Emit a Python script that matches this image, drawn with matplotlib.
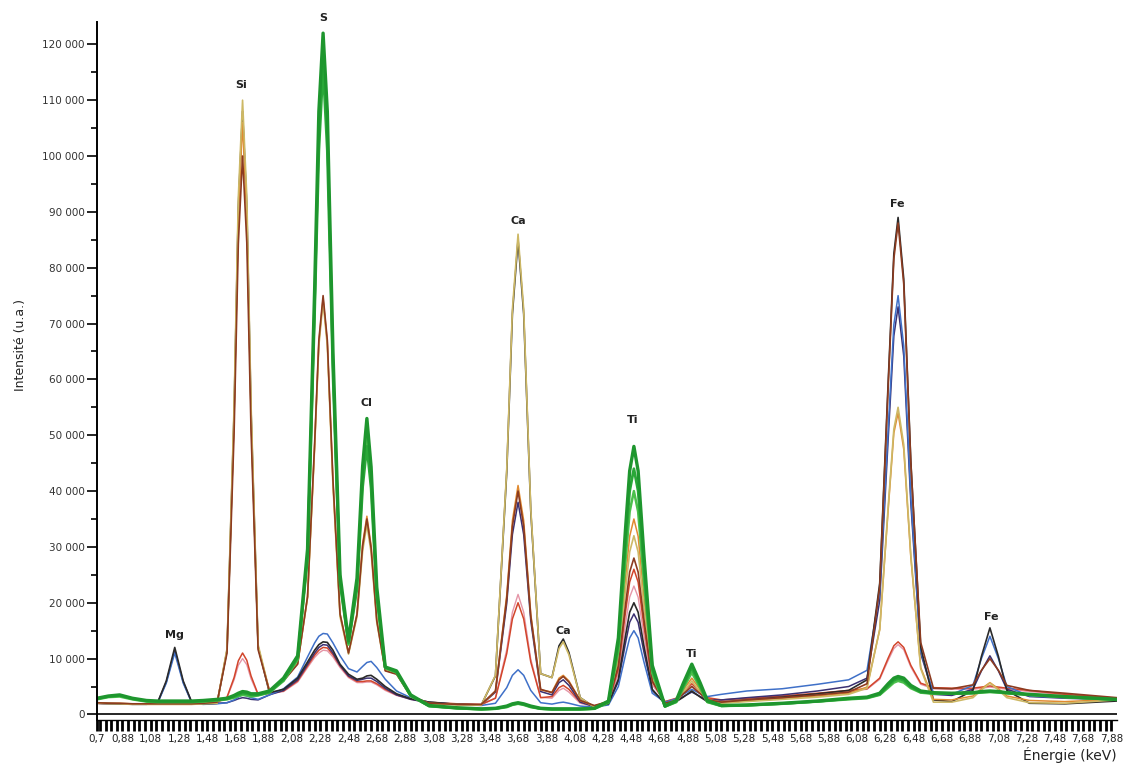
import numpy as np
import matplotlib
matplotlib.use('Agg')
import matplotlib.pyplot as plt
from matplotlib.ticker import FixedLocator, FuncFormatter

plt.rcParams['font.family'] = ['DejaVu Sans']

# energy grid (keV), shared by every spectrum
energy = [0.70, 0.78, 0.86, 0.95, 1.05, 1.13, 1.19, 1.25, 1.31, 1.37, 1.45, 1.55,
          1.62, 1.67, 1.70, 1.73, 1.76, 1.79, 1.84, 1.92,
          2.02, 2.12, 2.19, 2.24, 2.27, 2.30, 2.33, 2.37, 2.42, 2.48,
          2.54, 2.58, 2.61, 2.64, 2.68, 2.74, 2.82, 2.92,
          3.05, 3.25, 3.42, 3.52,
          3.60, 3.64, 3.68, 3.72, 3.77, 3.84, 3.92, 3.97, 4.00, 4.04, 4.12, 4.22,
          4.32, 4.39, 4.44, 4.47, 4.50, 4.53, 4.57, 4.63, 4.72,
          4.80, 4.85, 4.91, 4.97, 5.02, 5.12,
          5.30, 5.55, 5.80, 6.02,
          6.15, 6.24, 6.30, 6.34, 6.37, 6.41, 6.46, 6.53, 6.62,
          6.75, 6.90, 6.96, 7.02, 7.08, 7.14, 7.30, 7.55, 7.92]

green = [2900, 3300, 3500, 2900, 2500, 2400, 2400, 2400, 2400, 2400, 2500, 2700,
         2900, 3400, 3800, 4100, 4000, 3700, 3700, 4200,
         6500, 10500, 29600, 76000, 108000, 122000, 108000, 65000, 25000, 13200,
         24400, 44500, 53000, 44300, 22800, 8500, 7800, 3500,
         1600, 1200, 1000, 1100,
         1500, 1900, 2100, 1900, 1500, 1100, 1000, 1000, 1000, 1000, 1000, 1100,
         2400, 13700, 33000, 43600, 48000, 43600, 28900, 8800, 1500,
         2500, 5600, 9000, 5600, 2500, 1600,
         1700, 2000, 2400, 2900,
         3100, 3800, 5500, 6500, 6800, 6500, 5200, 4200, 3900,
         3800, 3900, 4100, 4200, 4100, 3900, 3600, 3200, 2700]

green2 = [2700, 3100, 3200, 2700, 2300, 2200, 2200, 2200, 2200, 2200, 2300, 2500,
          2700, 3000, 3300, 3500, 3400, 3200, 3400, 3900,
          6000, 9800, 28700, 74100, 105000, 119000, 105000, 63000, 24000, 12500,
          23200, 42100, 49500, 41500, 21500, 8300, 7500, 3300,
          1500, 1100, 900, 1000,
          1300, 1700, 1900, 1700, 1300, 1000, 900, 900, 900, 900, 900, 1000,
          2100, 11400, 27400, 36300, 40000, 36300, 24100, 7400, 1400,
          2200, 4700, 7500, 4700, 2200, 1500,
          1600, 1900, 2300, 2700,
          2900, 3500, 4800, 5700, 6000, 5700, 4700, 3900, 3700,
          3700, 3800, 3900, 4000, 3900, 3800, 3500, 3100, 2600]

green3 = [2800, 3200, 3400, 2800, 2400, 2300, 2300, 2300, 2300, 2300, 2400, 2600,
          2800, 3200, 3500, 3800, 3700, 3500, 3500, 4000,
          6200, 10100, 28000, 72000, 101000, 116000, 101000, 61000, 23500, 12800,
          22500, 40800, 48000, 40500, 21000, 8400, 7600, 3400,
          1500, 1100, 950, 1050,
          1400, 1800, 2000, 1800, 1400, 1050, 950, 950, 950, 950, 950, 1050,
          2200, 12600, 30300, 40000, 44000, 40000, 26500, 8100, 1450,
          2300, 5100, 8300, 5100, 2300, 1550,
          1650, 1950, 2350, 2800,
          3000, 3600, 5100, 6100, 6400, 6100, 4900, 4000, 3800,
          3750, 3850, 4000, 4100, 4000, 3850, 3550, 3150, 2650]

brown = [2100, 2000, 2000, 1900, 1900, 1900, 1900, 1900, 1900, 1900, 2000, 2200,
         11000, 50400, 84300, 100000, 84500, 50800, 11600, 4200,
         6000, 9000, 21100, 48400, 67000, 75000, 67000, 41900, 18000, 11000,
         17900, 30200, 35000, 29800, 16800, 7800, 7200, 3300,
         2000, 1800, 1800, 4200,
         20800, 33700, 40000, 33700, 17600, 4500, 3900, 6200, 6800, 5800, 2500, 1600,
         2300, 8700, 19500, 25500, 28000, 25500, 17200, 6000, 2000,
         2500, 3700, 5000, 3700, 2600, 2200,
         2600, 3000, 3500, 4000,
         5500, 22900, 58800, 81600, 88000, 77100, 45200, 12900, 4700,
         4600, 5300, 7900, 10000, 7900, 5200, 4300, 3800, 3000]

khaki = [2000, 1900, 1900, 1800, 1800, 1800, 1800, 1800, 1800, 1800, 1900, 2000,
         11800, 55200, 92600, 110000, 92800, 55500, 12500, 4200,
         6200, 9200, 20900, 47700, 66000, 74000, 66000, 41000, 17500, 10800,
         17500, 29300, 34000, 29000, 16500, 7900, 7300, 3200,
         1900, 1700, 1700, 7000,
         43900, 72500, 86000, 72500, 36800, 7300, 6600, 11800, 13000, 10700, 3000, 1300,
         2200, 9600, 22200, 29100, 32000, 29100, 19500, 6500, 1800,
         2300, 3900, 6000, 3900, 2400, 2000,
         2300, 2700, 3100, 3600,
         4700, 15200, 37200, 51100, 55000, 48300, 28600, 8200, 2200,
         2200, 3000, 4400, 5600, 4400, 3000, 2100, 2000, 2600]

orange = [2100, 2000, 2000, 1900, 1900, 1900, 1900, 1900, 1900, 1900, 2000, 2100,
          11500, 53200, 88900, 106000, 89100, 53500, 12100, 4300,
          6100, 9100, 21100, 48100, 66600, 74500, 66600, 41700, 18000, 11000,
          18000, 30600, 35500, 30200, 17000, 7900, 7300, 3300,
          2000, 1800, 1700, 4200,
          21400, 34700, 41000, 34700, 18000, 4400, 4000, 6500, 7000, 6000, 2500, 1500,
          2400, 10500, 24200, 31900, 35000, 31900, 21300, 7000, 1900,
          2600, 4400, 6500, 4400, 2700, 2200,
          2500, 2900, 3300, 3800,
          4900, 15200, 36700, 50400, 54000, 47500, 28200, 8400, 2700,
          2600, 3300, 4600, 5700, 4600, 3300, 2500, 2300, 2700]

black = [2100, 2000, 1900, 1900, 1900, 2200, 6000, 12000, 6000, 2200, 1900, 2000,
         11500, 54100, 90800, 108000, 91000, 54500, 12100, 3900,
         4500, 6500, 9400, 11500, 12500, 13000, 12900, 11500, 9000, 7200,
         6300, 6500, 6900, 7000, 6300, 5000, 3700, 2800,
         2200, 1800, 1700, 6900,
         43400, 71700, 85000, 71700, 36400, 7300, 6600, 12300, 13500, 11100, 3000, 1300,
         1900, 6300, 14000, 18300, 20000, 18300, 12400, 4500, 1900,
         2300, 3100, 4200, 3100, 2300, 2200,
         2600, 3100, 3700, 4300,
         6200, 23500, 59600, 82500, 89000, 78000, 45400, 12100, 2600,
         2300, 4300, 10400, 15500, 10400, 4300, 2000, 1900, 2400]

blue = [2000, 1900, 1900, 1800, 1800, 2100, 5600, 11000, 5600, 2100, 1800, 1900,
        2100, 2600, 3100, 3500, 3300, 3000, 2700, 3500,
        4600, 6700, 10300, 12800, 14000, 14500, 14400, 12800, 10500, 8200,
        7600, 8600, 9300, 9500, 8400, 6300, 4200, 3000,
        2200, 1800, 1600, 2000,
        4800, 7000, 8000, 7000, 4300, 2100, 1850, 2100, 2200, 2000, 1500, 1300,
        1700, 5000, 10600, 13700, 15000, 13700, 9500, 3800, 2200,
        2800, 3600, 4500, 3700, 3200, 3600,
        4200, 4600, 5400, 6200,
        7900, 22000, 51200, 69800, 75000, 66000, 39100, 11300, 3800,
        3600, 5200, 10000, 14000, 10000, 5000, 3300, 3000, 2800]

navy = [2000, 1900, 1900, 1900, 1900, 2200, 5800, 11500, 5800, 2200, 1900, 2000,
        2100, 2500, 2800, 3000, 2900, 2700, 2600, 3500,
        4300, 6200, 9000, 11000, 12000, 12500, 12400, 11000, 8800, 6900,
        6100, 6300, 6500, 6500, 5900, 4700, 3500, 2700,
        2100, 1800, 1700, 4000,
        19900, 32200, 38000, 32200, 16800, 4100, 3500, 5700, 6200, 5200, 2200, 1400,
        1900, 5900, 12700, 16500, 18000, 16500, 11300, 4300, 2000,
        2400, 3200, 4000, 3200, 2600, 2600,
        3000, 3500, 4200, 5000,
        6500, 20400, 49400, 67800, 73000, 64200, 37900, 10900, 3600,
        3400, 4500, 7800, 10500, 7800, 4500, 3200, 2900, 2600]

red = [2000, 1900, 1900, 1900, 1900, 1900, 1900, 1900, 1900, 1900, 2000, 2200,
       3100, 6600, 9600, 11000, 9700, 6900, 3600, 3800,
       4200, 6000, 8700, 10600, 11500, 12000, 11900, 10700, 8700, 6800,
       5900, 5900, 6000, 6000, 5500, 4500, 3500, 2800,
       2200, 1900, 1800, 2900,
       10900, 17100, 20000, 17100, 9400, 3000, 3200, 4800, 5200, 4500, 2200, 1500,
       2200, 8100, 18200, 23700, 26000, 23700, 16000, 5800, 2300,
       2900, 4100, 5500, 4100, 3000, 2600,
       2900, 3300, 3800, 4300,
       4600, 6500, 10100, 12300, 13000, 12000, 8800, 5600, 4800,
       4700, 4700, 4900, 5100, 4900, 4700, 4300, 3600, 2900]

pink = [2000, 1900, 1900, 1800, 1800, 1800, 1800, 1800, 1800, 1800, 1900, 2100,
        3000, 6200, 8800, 10000, 8900, 6400, 3500, 3700,
        4100, 5800, 8400, 10200, 11000, 11500, 11400, 10300, 8400, 6600,
        5700, 5700, 5800, 5800, 5300, 4300, 3400, 2700,
        2100, 1800, 1700, 2950,
        11600, 18300, 21500, 18300, 9900, 3050, 2900, 4300, 4700, 4000, 2000, 1400,
        2100, 7300, 16100, 21000, 23000, 21000, 14300, 5300, 2300,
        2800, 3900, 5100, 3900, 2900, 2500,
        2800, 3200, 3700, 4200,
        4500, 6300, 9700, 11800, 12500, 11600, 8500, 5400, 4600,
        4500, 4500, 4700, 4900, 4700, 4500, 4100, 3500, 2800]

# element labels above the peaks
peak_names = ['Mg', 'Si', 'S', 'Cl', 'Ca', 'Ca', 'Ti', 'Ti', 'Fe', 'Fe']
peak_x = [1.25, 1.72, 2.30, 2.61, 3.68, 4.00, 4.49, 4.91, 6.365, 7.03]
peak_y = [14200, 112700, 124700, 55700, 88400, 14900, 52700, 10900, 91400, 17400]

xticks = [0.7, 0.88, 1.08, 1.28, 1.48, 1.68, 1.88, 2.08, 2.28, 2.48, 2.68, 2.88,
          3.08, 3.28, 3.48, 3.68, 3.88, 4.08, 4.28, 4.48, 4.68, 4.88, 5.08, 5.28,
          5.48, 5.68, 5.88, 6.08, 6.28, 6.48, 6.68, 6.88, 7.08, 7.28, 7.48, 7.68, 7.88]

series = [(pink, '#e596a8', 1.0),
          (red, '#d2452b', 1.1),
          (navy, '#3a3072', 1.1),
          (blue, '#3f70c8', 1.1),
          (black, '#2a2a2a', 1.2),
          (orange, '#e08a30', 1.1),
          (khaki, '#cdb865', 1.2),
          (brown, '#8c3b20', 1.2),
          (green2, '#4cc04c', 1.8),
          (green3, '#2aa838', 2.0),
          (green, '#1e962e', 2.4)]

fig = plt.figure(figsize=(11.35, 7.69), dpi=100)
ax = fig.add_axes([0.0855, 0.0637, 0.8987, 0.9077])

for vals, col, lw in series:
    ax.plot(energy, vals, color=col, lw=lw, solid_joinstyle='round')

ax.axhline(0, color='black', lw=1.2, zorder=5)

for name, px, py in zip(peak_names, peak_x, peak_y):
    ax.text(px, py, name, ha='center', va='center', fontsize=8,
            fontweight='bold', color='#222222', clip_on=False)

ax.set_xlim(0.7, 7.92)
ax.set_ylim(-1000, 124000)

ax.spines['top'].set_visible(False)
ax.spines['right'].set_visible(False)
ax.spines['left'].set_linewidth(1.4)
ax.spines['bottom'].set_linewidth(1.0)

ax.xaxis.set_major_locator(FixedLocator(xticks))
ax.xaxis.set_minor_locator(FixedLocator(np.arange(0.72, 7.92, 0.04)))
ax.set_xticklabels([f'{v:g}'.replace('.', ',') for v in xticks])
ax.tick_params(axis='x', which='both', direction='out', length=8, width=2.0,
               labelsize=7.5, pad=2, labelcolor='#222222')

ax.yaxis.set_major_locator(FixedLocator(np.arange(0, 120001, 10000)))
ax.yaxis.set_minor_locator(FixedLocator(np.arange(5000, 120001, 10000)))
ax.yaxis.set_major_formatter(FuncFormatter(lambda v, p: f'{int(v):,}'.replace(',', ' ')))
ax.tick_params(axis='y', which='major', direction='out', length=7, width=1.2,
               labelsize=7.5, pad=2, labelcolor='#333333')
ax.tick_params(axis='y', which='minor', direction='out', length=4, width=1.2)

fig.text(0.018, 0.551, 'Intensité (u.a.)', rotation=90, ha='center', va='center',
         fontsize=9, color='#222222')
fig.text(0.984, 0.018, 'Énergie (keV)', ha='right', va='center',
         fontsize=10, color='#222222')

fig.savefig('out.png', dpi=100)
